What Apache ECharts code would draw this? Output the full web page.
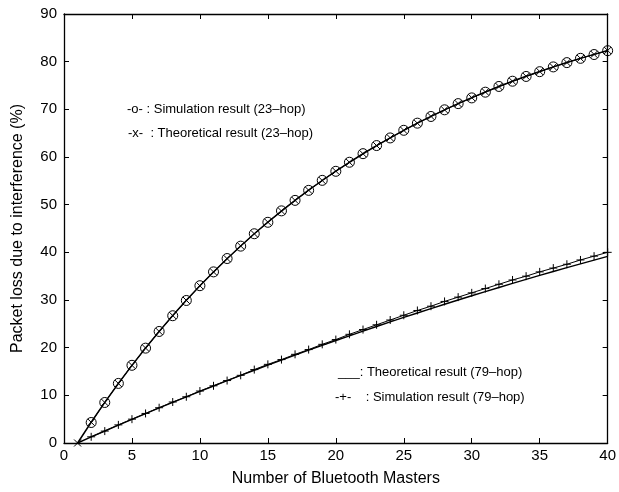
<!DOCTYPE html>
<html><head><meta charset="utf-8">
<script src="https://cdn.jsdelivr.net/npm/echarts@6/dist/echarts.min.js"></script>
<style>html,body{margin:0;padding:0;background:#fff}#c{width:619px;height:492px}</style>
</head><body><div id="c"></div>
<script>
var masters = [1,2,3,4,5,6,7,8,9,10,11,12,13,14,15,16,17,18,19,20,21,22,23,24,25,26,27,28,29,30,31,32,33,34,35,36,37,38,39,40];
var sim23 = [null,4.3,8.5,12.5,16.3,19.9,23.4,26.7,29.9,33.0,35.9,38.7,41.3,43.9,46.3,48.7,50.9,53.0,55.1,57.0,58.9,60.7,62.4,64.0,65.6,67.1,68.5,69.9,71.2,72.4,73.6,74.8,75.9,76.9,77.9,78.9,79.8,80.7,81.5,82.3];
var theo23 = [0,4.35,8.51,12.48,16.29,19.93,23.41,26.74,29.93,32.97,35.89,38.67,41.34,43.89,46.33,48.66,50.90,53.03,55.07,57.03,58.89,60.68,62.39,64.03,65.59,67.09,68.52,69.89,71.20,72.45,73.65,74.79,75.89,76.94,77.94,78.90,79.82,80.69,81.53,82.34];
var theo79 = [0,1.27,2.52,3.75,4.97,6.17,7.36,8.53,9.69,10.83,11.96,13.08,14.18,15.26,16.33,17.39,18.44,19.47,20.49,21.50,22.49,23.47,24.44,25.40,26.34,27.27,28.19,29.10,30.00,30.89,31.76,32.63,33.48,34.32,35.15,35.97,36.78,37.58,38.37,39.15];
var sim79 = [null,1.3,2.5,3.8,5.0,6.2,7.4,8.6,9.7,10.9,12.0,13.1,14.2,15.4,16.5,17.5,18.6,19.6,20.7,21.7,22.8,23.8,24.8,25.8,26.8,27.8,28.7,29.7,30.6,31.5,32.4,33.3,34.2,35.0,35.9,36.7,37.5,38.4,39.2,40.0];
var xTicks = [0,5,10,15,20,25,30,35,40];
var yTicks = [0,10,20,30,40,50,60,70,80,90];
var legend23 = ['-o- : Simulation result (23\u2013hop)', '-x-  : Theoretical result (23\u2013hop)'];
var legend79 = ['___: Theoretical result (79\u2013hop)', '-+-    : Simulation result (79\u2013hop)'];

function pairs(xs, ys){ return xs.map(function(x,i){return [x, ys[i]];}); }
var FONT = 'Liberation Sans, Arial, Helvetica, sans-serif';
var axisCommon = {
  axisLine:{show:true, onZero:false, lineStyle:{color:'#000', width:1.3}},
  axisTick:{show:true, inside:true, length:5, lineStyle:{color:'#000', width:1}},
  splitLine:{show:false}
};
var chart = echarts.init(document.getElementById('c'), null, {renderer:'canvas'});
chart.setOption({
  animation:false,
  backgroundColor:'#fff',
  grid:{left:64, right:7, top:14, bottom:46, containLabel:false},
  xAxis:[
    Object.assign({type:'value', position:'bottom', min:xTicks[0], max:xTicks[xTicks.length-1], interval:5,
      name:'Number of Bluetooth Masters', nameLocation:'middle', nameGap:28,
      nameTextStyle:{fontFamily:FONT, fontSize:16, color:'#000'},
      axisLabel:{fontFamily:FONT, fontSize:15, color:'#000', margin:5}}, axisCommon),
    Object.assign({type:'value', position:'top', min:0, max:40, interval:5, axisLabel:{show:false}}, axisCommon)
  ],
  yAxis:[
    Object.assign({type:'value', position:'left', min:yTicks[0], max:yTicks[yTicks.length-1], interval:10,
      name:'Packet loss due to interference (%)', nameLocation:'middle', nameGap:38,
      nameTextStyle:{fontFamily:FONT, fontSize:16, color:'#000'},
      axisLabel:{fontFamily:FONT, fontSize:15, color:'#000', margin:7}}, axisCommon),
    Object.assign({type:'value', position:'right', min:0, max:90, interval:10, axisLabel:{show:false}}, axisCommon)
  ],
  series:[
    {name:'theo79', type:'line', data:pairs(masters, theo79), showSymbol:false, symbol:'none',
      lineStyle:{color:'#000', width:1.4}, z:2},
    {name:'sim79', type:'line', data:pairs(masters, sim79), symbol:'path://M5 0V10M0 5H10', symbolSize:8,
      connectNulls:false, itemStyle:{color:'rgba(0,0,0,0)', borderColor:'#000', borderWidth:1}, lineStyle:{color:'#000', width:1}, z:3},
    {name:'theo23', type:'line', data:pairs(masters, theo23), symbol:'path://M0 0L10 10M10 0L0 10', symbolSize:7,
      itemStyle:{color:'rgba(0,0,0,0)', borderColor:'#000', borderWidth:1}, lineStyle:{color:'#000', width:1.5}, z:4},
    {name:'sim23', type:'line', data:pairs(masters, sim23), symbol:'circle', symbolSize:10,
      itemStyle:{color:'rgba(0,0,0,0)', borderColor:'#000', borderWidth:1}, lineStyle:{color:'#000', width:1}, z:3}
  ],
  graphic:[
    {type:'text', left:127, top:103, style:{text:legend23[0], font:'13px '+FONT, fill:'#000'}},
    {type:'text', left:128, top:127, style:{text:legend23[1], font:'13px '+FONT, fill:'#000'}},
    {type:'text', left:338, top:366, style:{text:legend79[0], font:'13px '+FONT, fill:'#000'}},
    {type:'text', left:335, top:391, style:{text:legend79[1], font:'13px '+FONT, fill:'#000'}}
  ]
});
</script></body></html>
